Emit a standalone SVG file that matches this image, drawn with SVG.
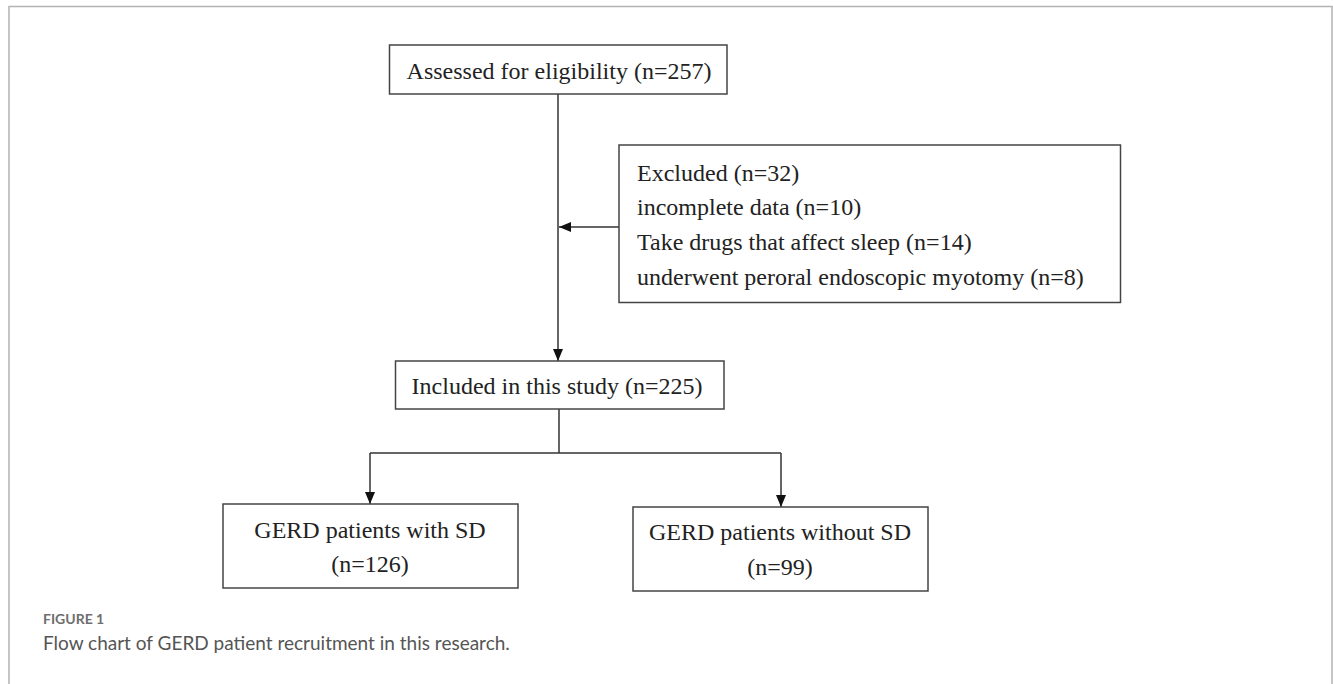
<svg xmlns="http://www.w3.org/2000/svg" width="1333" height="684" viewBox="0 0 1333 684">
  <defs>
    <style>
      .box { fill: #ffffff; stroke: #444444; stroke-width: 1.5; }
      .t { font-family: "Liberation Serif", "Times New Roman", serif; font-size: 24px; fill: #222222; }
      .c { text-anchor: middle; }
      .edge { fill: none; stroke: #333333; stroke-width: 1.5; }
      .fig { font-family: Lato, "Open Sans", sans-serif; font-size: 14px; font-weight: bold; fill: #6e6e6e; }
      .cap { font-family: Lato, "Open Sans", sans-serif; font-size: 19px; fill: #555555; }
    </style>
    <marker id="arr" viewBox="0 0 12 10" refX="12" refY="5" markerWidth="12" markerHeight="10" markerUnits="userSpaceOnUse" orient="auto">
      <path d="M0,0 L12,5 L0,10 Z" fill="#111111"/>
    </marker>
  </defs>
  <rect x="0" y="0" width="1333" height="684" fill="#ffffff"/>
  <path d="M9,684 V6.5 H1332 V684" fill="none" stroke="#b3b3b3" stroke-width="1.5"/>

  <g id="connectors">
    <line class="edge" x1="558" y1="94" x2="558" y2="361" marker-end="url(#arr)"/>
    <line class="edge" x1="619" y1="227" x2="559" y2="227" marker-end="url(#arr)"/>
    <polyline class="edge" points="559,409 559,453"/>
    <polyline class="edge" points="370,453 781,453"/>
    <line class="edge" x1="370" y1="453" x2="370" y2="504" marker-end="url(#arr)"/>
    <line class="edge" x1="781" y1="453" x2="781" y2="507" marker-end="url(#arr)"/>
  </g>

  <g id="assessed">
    <rect class="box" x="389.5" y="45" width="337.5" height="49"/>
    <text class="t c" x="559" y="79">Assessed for eligibility (n=257)</text>
  </g>

  <g id="excluded">
    <rect class="box" x="619" y="145" width="501.5" height="157.5"/>
    <text class="t" x="637" y="180.5">Excluded (n=32)</text>
    <text class="t" x="637" y="215">incomplete data (n=10)</text>
    <text class="t" x="637" y="249.5">Take drugs that affect sleep (n=14)</text>
    <text class="t" x="637" y="284.5">underwent peroral endoscopic myotomy (n=8)</text>
  </g>

  <g id="included">
    <rect class="box" x="395.5" y="361" width="328.5" height="48"/>
    <text class="t c" x="557" y="394">Included in this study (n=225)</text>
  </g>

  <g id="with-sd">
    <rect class="box" x="223" y="504" width="295" height="84"/>
    <text class="t c" x="370" y="538">GERD patients with SD</text>
    <text class="t c" x="370" y="572">(n=126)</text>
  </g>

  <g id="without-sd">
    <rect class="box" x="633" y="507" width="295" height="84"/>
    <text class="t c" x="780" y="540">GERD patients without SD</text>
    <text class="t c" x="780" y="575">(n=99)</text>
  </g>

  <g id="caption">
    <text class="fig" x="43" y="624">FIGURE 1</text>
    <text class="cap" x="43" y="650">Flow chart of GERD patient recruitment in this research.</text>
  </g>
</svg>
